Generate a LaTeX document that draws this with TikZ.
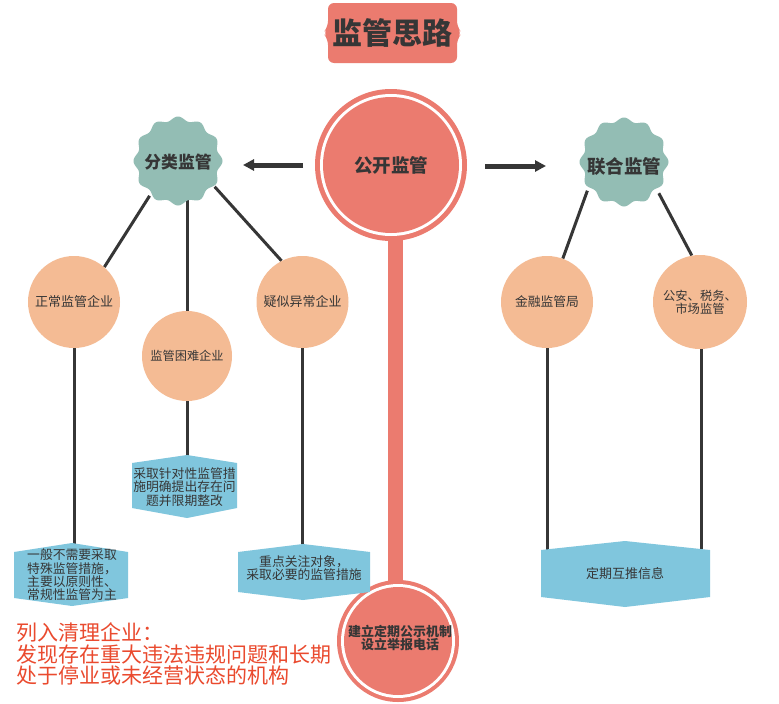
\documentclass[tikz,border=0pt]{standalone}
\usepackage{fontspec}
\setmainfont{Noto Sans CJK SC}
\usetikzlibrary{arrows.meta}
\definecolor{salmon}{HTML}{EB7B6F}
\definecolor{peach}{HTML}{F4BB94}
\definecolor{tealb}{HTML}{93BDB4}
\definecolor{sky}{HTML}{80C6DD}
\definecolor{ink}{HTML}{363636}
\definecolor{redtxt}{HTML}{EA4A2E}
\pgfdeclarelayer{back}
\pgfdeclarelayer{bg}
\pgfsetlayers{back,bg,main}
\begin{document}
\begin{tikzpicture}[x=1pt,y=-1pt,
  peachc/.style={circle,fill=peach,minimum size=#1,inner sep=0pt,text=ink,align=center},
  tx/.style={font=\fontsize{#1}{#1}\selectfont},
  conn/.style={draw=ink,line width=3pt},
  arr/.style={draw=ink,line width=5pt,-{Triangle[length=11pt,width=11pt]}},
  boxtxt/.style={text=ink,align=center,inner sep=0pt,font=\fontsize{12.8}{13.3}\selectfont},
  hub/.style={circle,minimum size=88pt,inner sep=0pt,text=ink,font=\bfseries}]
\begin{pgfonlayer}{back}
\fill[white] (0,0) rectangle (779,704);
\end{pgfonlayer}
\useasboundingbox (0,0) rectangle (779,704);

% title
\fill[salmon,rounded corners=6pt] (328,3) -- (457,3) -- (457,27) -- (462,33) -- (457,39) -- (457,63) -- (328,63) -- (328,39) -- (323,33) -- (328,27) -- cycle;
\node[text=ink,font=\fontsize{30}{32}\selectfont\bfseries] (title) at (392,33) {监管思路};

% central circle
\fill[salmon] (391,165) circle (76);
\fill[white] (391,165) circle (71);
\fill[salmon] (391,165) circle (68);
\node[circle,minimum size=152pt,inner sep=0pt,text=ink,font=\fontsize{18.5}{20}\selectfont\bfseries] (gk) at (391,165) {公开监管};

% bottom circle
\fill[salmon] (398,641) circle (61);
\fill[white] (398,641) circle (57);
\fill[salmon] (398,641) circle (54);
\node[circle,minimum size=122pt,inner sep=0pt,text=ink,align=center,font=\fontsize{13}{12.5}\selectfont\bfseries] (gs) at (400,638) {建立定期公示机制\\设立举报电话};

% badges
\fill[tealb] plot[domain=0:360,samples=241] ({178+(42.5+2*cos(12*\x))*cos(\x)},{161+(42.5+2*cos(12*\x))*sin(\x)}) -- cycle;
\node[hub,tx=16.8] (fl) at (178,162) {\bfseries 分类监管};
\fill[tealb] plot[domain=0:360,samples=241] ({624+(42.5+2*cos(12*\x))*cos(\x)},{162+(42.5+2*cos(12*\x))*sin(\x)}) -- cycle;
\node[hub,tx=18.5] (lh) at (624,166) {\bfseries 联合监管};

% peach circles
\node[peachc=92pt,tx=13] (zc) at (74,302) {正常监管企业};
\node[peachc=90pt,tx=12.2] (kn) at (187,356) {监管困难企业};
\node[peachc=92pt,tx=13] (ys) at (302.5,302) {疑似异常企业};
\node[peachc=92pt,tx=12.8] (jr) at (547,302) {金融监管局};
\node[peachc=94pt,font=\fontsize{12.3}{13}\selectfont] (ga) at (700,302) {公安、税务、\\市场监管};

% blue boxes
\fill[sky] (132,463) -- (187,455) -- (237,463) -- (237,508) -- (187,518) -- (132,508) -- cycle;
\node[boxtxt] (b1) at (184.5,487) {采取针对性监管措\\施明确提出存在问\\题并限期整改};
\fill[sky] (14,552) -- (72,543) -- (128,552) -- (128,598) -- (72,606) -- (14,598) -- cycle;
\node[boxtxt] (b2) at (72,575) {一般不需要采取\\特殊监管措施，\\主要以原则性、\\常规性监管为主};
\fill[sky] (238,552) -- (303,544) -- (370,552) -- (370,592) -- (303,600) -- (238,592) -- cycle;
\node[boxtxt] (b3) at (304,568) {重点关注对象，\\采取必要的监管措施};
\fill[sky] (541,550) -- (625,541) -- (710,550) -- (710,597) -- (625,607) -- (541,597) -- cycle;
\node[boxtxt,font=\fontsize{13}{14}\selectfont] (b4) at (625,574) {定期互推信息};

% red text
\node[anchor=west,inner sep=0pt,align=left,text=redtxt,font=\fontsize{21}{21.5}\selectfont] (note) at (16,654) {列入清理企业：\\发现存在重大违法违规问题和长期\\处于停业或未经营状态的机构};

% connectors
\coordinate (la) at (303,165);
\coordinate (lt) at (243,165);
\coordinate (ra) at (485,166);
\coordinate (rt) at (546,166);
\draw[arr] (la) -- (lt);
\draw[arr] (ra) -- (rt);

\begin{pgfonlayer}{bg}
  \fill[salmon] (388,230) rectangle (403,600);
  \draw[conn] (fl.230) -- (zc.49);
  \draw[conn] (fl.326) -- (ys.117);
  \draw[conn] (kn.north) -- (kn.north |- fl.center);
  \draw[conn] (zc.south) -- (zc.south |- b2.center);
  \draw[conn] (kn.south) -- (kn.south |- b1.center);
  \draw[conn] (ys.south) -- (ys.south |- b3.center);
  \draw[conn] (lh.214) -- (jr.70);
  \draw[conn] (lh.322) -- (ga.100);
  \draw[conn] (jr.south) -- (jr.south |- b4.center);
  \draw[conn] ([xshift=1.5pt]ga.south) -- ([xshift=1.5pt]ga.south |- b4.center);
\end{pgfonlayer}
\end{tikzpicture}
\end{document}
